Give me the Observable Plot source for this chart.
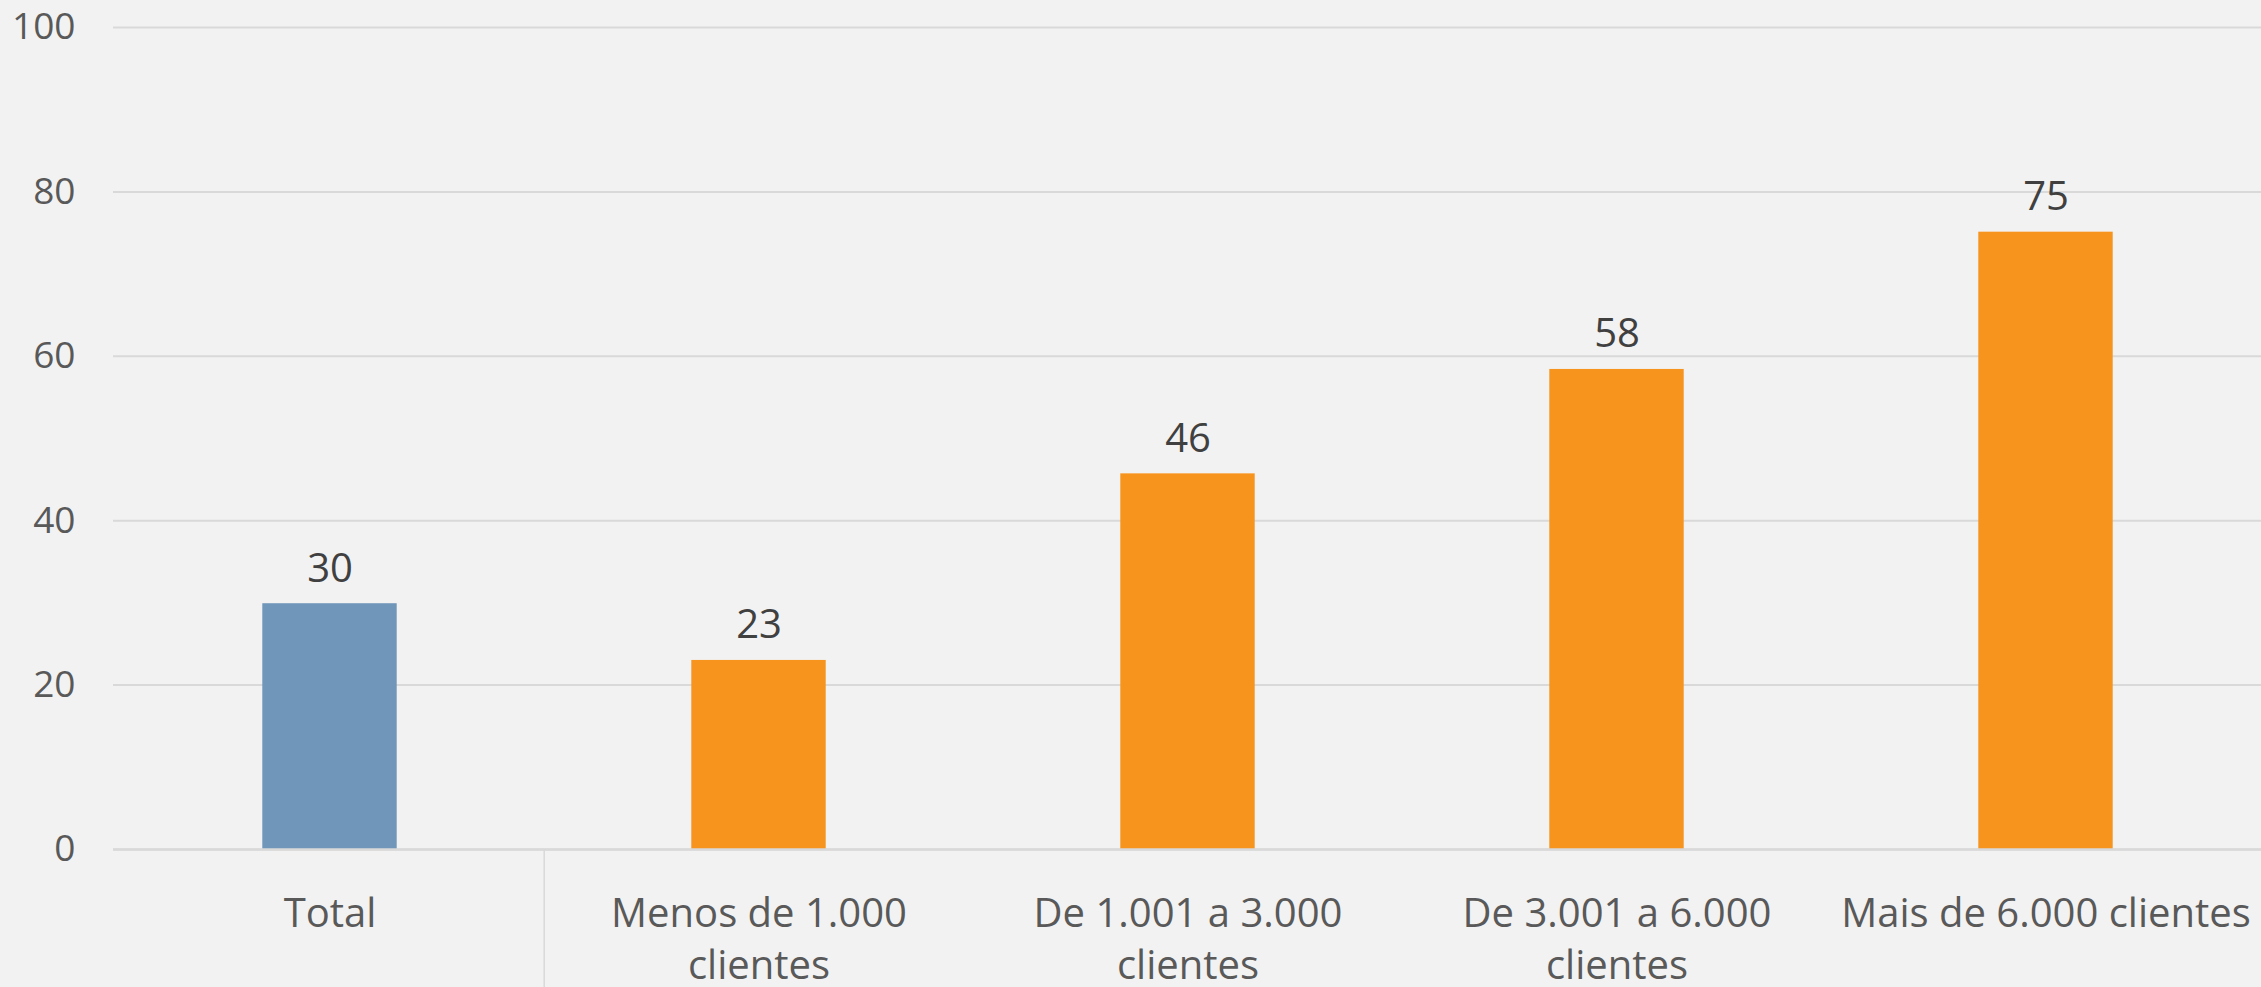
<!DOCTYPE html>
<html>
<head>
<meta charset="utf-8">
<script src="https://cdn.jsdelivr.net/npm/d3@7"></script>
<script src="https://cdn.jsdelivr.net/npm/@observablehq/plot@0.6"></script>
<style>
  html, body { margin: 0; padding: 0; background: #f2f2f2; }
  #chart { width: 2261px; height: 987px; overflow: hidden; }
</style>
</head>
<body>
<div id="chart"></div>
<script>
const categories = ["Total", "Menos de 1.000 clientes", "De 1.001 a 3.000 clientes", "De 3.001 a 6.000 clientes", "Mais de 6.000 clientes"];
const tickLabels = ["Total", "Menos de 1.000\nclientes", "De 1.001 a 3.000\nclientes", "De 3.001 a 6.000\nclientes", "Mais de 6.000 clientes"];
const values = [29.9, 23.0, 45.7, 58.4, 75.1];
const valueLabels = ["30", "23", "46", "58", "75"];
const yTicks = [0, 20, 40, 60, 80, 100];

const data = categories.map((c, i) => ({cat: c, value: values[i], label: valueLabels[i]}));

const W = 2261, H = 987, ML = 113, MR = 0, MT = 27, MB = 138;
const bandwidth = (W - ML - MR) / categories.length;

const chart = Plot.plot({
  width: W,
  height: H,
  marginLeft: ML,
  marginRight: MR,
  marginTop: MT,
  marginBottom: MB,
  style: {background: "#f2f2f2", fontFamily: "'Open Sans', 'Noto Sans', sans-serif", overflow: "visible"},
  x: {type: "band", domain: categories, padding: 0},
  y: {domain: [0, 100]},
  marks: [
    Plot.gridY(yTicks, {stroke: "#d9d9d9", strokeOpacity: 1, strokeWidth: 2}),
    Plot.barY(data, {
      x: "cat",
      y: "value",
      fill: d => d.cat === "Total" ? "#7097ba" : "#f7941e",
      insetLeft: (bandwidth - 135) / 2,
      insetRight: (bandwidth - 135) / 2
    }),
    Plot.ruleY([0], {stroke: "#d9d9d9", strokeWidth: 2.5}),
    Plot.ruleX([categories[1]], {x: d => d, y1: 0, y2: -17, dx: -bandwidth / 2, stroke: "#d9d9d9", strokeWidth: 1.5}),
    Plot.text(data, {
      x: "cat",
      y: "value",
      text: "label",
      lineAnchor: "bottom",
      dy: -22,
      fontSize: 40,
      fill: "#404040"
    }),
    Plot.axisY(yTicks, {
      tickSize: 0,
      tickPadding: 38,
      fontSize: 37,
      fill: "#595959",
      label: null
    }),
    Plot.axisX({
      tickSize: 0,
      tickPadding: 41,
      fontSize: 40,
      lineHeight: 1.3,
      fill: "#595959",
      label: null,
      tickFormat: d => tickLabels[categories.indexOf(d)]
    })
  ]
});
document.getElementById("chart").appendChild(chart);
</script>
</body>
</html>
